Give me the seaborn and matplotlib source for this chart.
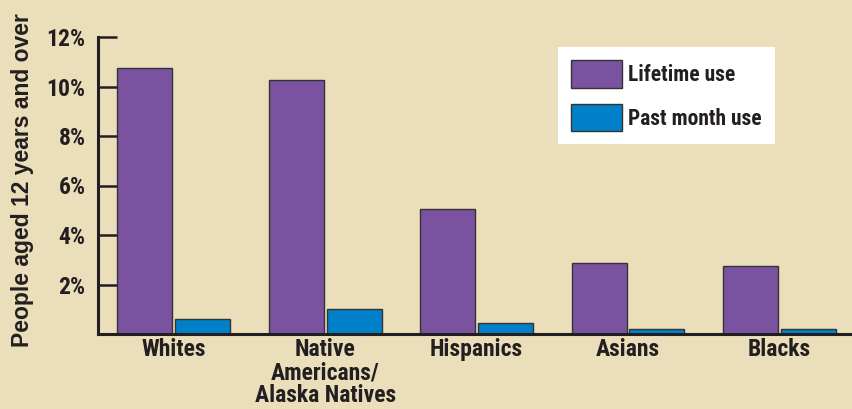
import matplotlib
matplotlib.use('Agg')
import matplotlib.pyplot as plt
import pandas as pd
import seaborn as sns

# Data (percent of people aged 12+)
groups = ['Whites', 'Native\nAmericans/\nAlaska Natives', 'Hispanics', 'Asians', 'Blacks']
lifetime = [10.75, 10.25, 5.05, 2.85, 2.75]
past_month = [0.62, 1.02, 0.45, 0.22, 0.21]
series = ['Lifetime use', 'Past month use']
y_ticks = [2, 4, 6, 8, 10, 12]

bg = '#EBDEBB'
ink = '#231F20'
colors = {'Lifetime use': '#7B52A0', 'Past month use': '#0080C8'}
narrow = ['Roboto Condensed', 'DejaVu Sans']

df = pd.DataFrame({
    'group': groups * 2,
    'use': [series[0]] * len(groups) + [series[1]] * len(groups),
    'value': lifetime + past_month,
})

fig = plt.figure(figsize=(8.53, 4.09), dpi=100, facecolor=bg)
ax = fig.add_axes([98 / 853, 75 / 409, 1 - 98 / 853, 297 / 409])
ax.set_facecolor(bg)

sns.barplot(data=df, x='group', y='value', hue='use', order=groups,
            hue_order=series, palette=colors, width=0.764, gap=0.05,
            edgecolor='#333333', linewidth=1.0, saturation=1, ax=ax)

ax.set_xlim(-0.5, 4.486)
ax.set_ylim(0, 12)

for side in ['top', 'right']:
    ax.spines[side].set_visible(False)
ax.spines['left'].set_linewidth(2.2)
ax.spines['bottom'].set_linewidth(2.2)
ax.spines['left'].set_color(ink)
ax.spines['bottom'].set_color(ink)

ax.set_yticks(y_ticks)
ax.set_yticklabels([f'{t}%' for t in y_ticks])
ax.tick_params(axis='y', direction='in', length=13.7, width=1.8, color=ink,
               pad=9, labelcolor=ink)
ax.tick_params(axis='x', length=0, pad=3, labelcolor=ink)
for lab in ax.get_yticklabels() + ax.get_xticklabels():
    lab.set_family(narrow)
    lab.set_fontweight('bold')
    lab.set_fontsize(17)
for lab in ax.get_xticklabels():
    lab.set_linespacing(1.0)

ax.set_xlabel('')
ax.set_ylabel('')
fig.text(22.7 / 853, 1 - 180 / 409, 'People aged 12 years and over',
         rotation=90, ha='center', va='center', fontsize=16.5,
         fontweight='bold', family=['Liberation Sans', 'DejaVu Sans'], color=ink)

handles, labels = ax.get_legend_handles_labels()
ax.legend(handles, labels, loc='upper left', bbox_to_anchor=(558 / 853, 1 - 47 / 409),
          bbox_transform=fig.transFigure, borderaxespad=0, frameon=True,
          facecolor='white', edgecolor='none', framealpha=1, fancybox=False,
          handlelength=2.37, handleheight=1.6, labelspacing=0.75,
          handletextpad=0.3, borderpad=0.6,
          prop={'family': narrow, 'weight': 'bold', 'size': 15.5})
for t in ax.get_legend().get_texts():
    t.set_color(ink)

fig.savefig('out.png', dpi=100, facecolor=bg)
